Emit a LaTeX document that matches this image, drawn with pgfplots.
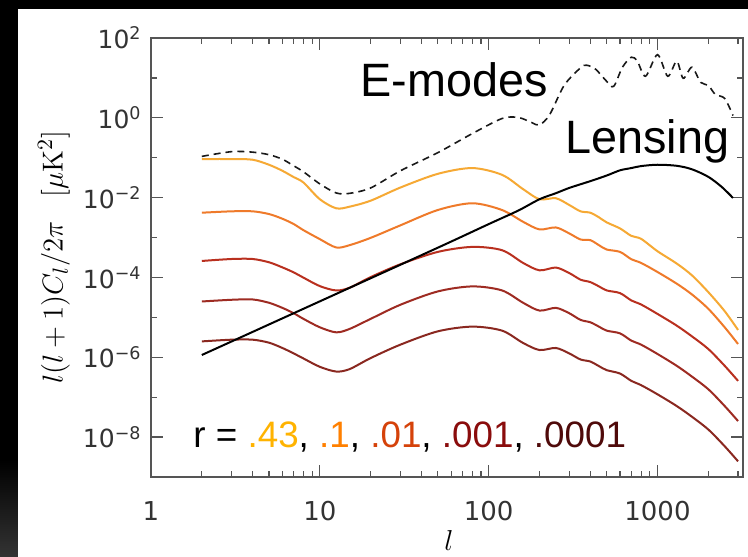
\documentclass[border=0pt]{standalone}
\usepackage[no-math]{fontspec}
\usepackage{pgfplots}
\pgfplotsset{compat=1.18}
\newfontfamily\arial{Liberation Sans}
\newfontfamily\dejavu{DejaVu Sans}
\definecolor{cA}{HTML}{F6A934}
\definecolor{cB}{HTML}{EF7A2A}
\definecolor{cC}{HTML}{B9301F}
\definecolor{cD}{HTML}{9E2B22}
\definecolor{cE}{HTML}{8A2820}
\definecolor{lA}{HTML}{FFB300}
\definecolor{lB}{HTML}{FF8000}
\definecolor{lC}{HTML}{D5420A}
\definecolor{lD}{HTML}{8A0C0C}
\definecolor{lE}{HTML}{4F0A0A}
\definecolor{frame}{HTML}{555555}
\begin{document}
\begin{tikzpicture}
\fill[black] (-75.5pt,-39.5pt) rectangle (298.5pt,238.5pt);
\shade[top color=black,bottom color=black!80!white] (-75.5pt,-39.5pt) rectangle (-66.5pt,8.5pt);
\fill[white] (-66.5pt,-39.5pt) rectangle (298.5pt,234pt);
\begin{axis}[
  at={(0pt,0pt)}, anchor=south west,
  scale only axis, width=296pt, height=219.5pt,
  xmode=log, ymode=log,
  xmin=1, xmax=3210, ymin=1e-9, ymax=1e2,
  xtick={1,10,100,1000}, xticklabels={1,10,100,1000},
  minor xtick={2,3,4,5,6,7,8,9,20,30,40,50,60,70,80,90,200,300,400,500,600,700,800,900,2000,3000},
  ytick={1e-8,1e-6,1e-4,1e-2,1,1e2},
  yticklabels={10\textsuperscript{−8},10\textsuperscript{−6},10\textsuperscript{−4},10\textsuperscript{−2},10\textsuperscript{0},10\textsuperscript{2}},
  minor ytick={1e-7,1e-5,1e-3,1e-1,10},
  major tick length=6pt, minor tick length=3pt,
  every tick/.style={frame, line width=0.6pt},
  axis line style={frame, line width=0.75pt},
  xticklabel style={font=\dejavu\fontsize{13}{15}\selectfont, inner sep=0pt, anchor=north, yshift=-12pt, text=black!80},
  yticklabel style={font=\dejavu\fontsize{12.5}{14}\selectfont, inner sep=0pt, anchor=east, xshift=-4.5pt, text=black!80},
  xlabel={$l$},
  ylabel={$l(l+1)C_l/2\pi\hspace{0.8em}[\mu\mathrm{K}^2]$},
  xlabel style={font=\fontsize{14.5}{16}\selectfont, at={(axis description cs:0.503,-0.1198)}, anchor=north, inner sep=0pt},
  ylabel style={font=\fontsize{15}{17}\selectfont, at={(axis description cs:-0.1639,0.5)}, anchor=center, inner sep=0pt},
]
% E-modes (dashed)
\addplot[black!90, line width=0.8pt, dash pattern=on 3.5pt off 2.5pt, smooth, tension=0.5] coordinates {
(2,1.08e-1) (3,1.42e-1) (4,1.38e-1) (5,1.19e-1) (6,9.16e-2) (7,6.28e-2) (8,4.44e-2)
(10,2.21e-2) (12.5,1.31e-2) (15,1.28e-2) (20,1.75e-2) (30,4.7e-2) (50,1.34e-1)
(80,4.03e-1) (120,9.6e-1) (150,1.02) (180,7.6e-1) (200,6.6e-1) (230,1.21) (280,6.5)
(350,17.9) (380,20.8) (430,16.5) (500,8.2) (550,6.14) (620,18.5) (700,33.0) (760,26.2)
(850,11.0) (1000,38.2) (1150,11.0) (1300,26.2) (1420,9.77) (1600,18.5) (1800,7.74)
(2000,6.5) (2200,3.86) (2500,3.06) (2800,1.14)};
% r = 0.43
\addplot[cA, line width=1pt, smooth] coordinates {
(2,9.27e-2) (3,9.27e-2) (4,8.91e-2) (5,6.67e-2) (6,4.71e-2) (7,3.27e-2) (8,2.39e-2)
(10,9.12e-3) (12.5,5.41e-3) (15,5.93e-3) (20,8.39e-3) (30,1.79e-2) (50,3.95e-2)
(80,5.51e-2) (120,3.73e-2) (160,1.63e-2) (200,9.12e-3) (250,9.66e-3) (300,6.55e-3)
(350,4.54e-3) (400,4.19e-3) (450,3.21e-3) (500,2.40e-3) (600,1.69e-3) (700,1.10e-3)
(800,9.27e-4) (1000,4.54e-4) (1300,2.23e-4) (1600,1.13e-4) (2000,4.29e-5)
(2500,1.43e-5) (3000,4.84e-6)};
% r = 0.1
\addplot[cB, line width=1pt, smooth] coordinates {
(2,4.19e-3) (3,4.54e-3) (4,4.54e-3) (5,3.88e-3) (6,2.96e-3) (7,2.18e-3) (8,1.53e-3)
(10,9.12e-4) (12.5,5.64e-4) (15,6.44e-4) (20,9.82e-4) (30,2.02e-3) (50,4.90e-3)
(80,7.23e-3) (120,4.90e-3) (160,2.48e-3) (200,1.60e-3) (250,1.79e-3) (300,1.27e-3)
(350,8.95e-4) (400,8.61e-4) (450,6.44e-4) (500,5.01e-4) (600,4.37e-4) (700,2.86e-4)
(800,2.31e-4) (1000,1.37e-4) (1300,6.98e-5) (1600,3.75e-5) (2000,1.64e-5)
(2500,5.64e-6) (3000,2.15e-6)};
% r = 0.01
\addplot[cC, line width=1pt, smooth] coordinates {
(2,2.59e-4) (3,2.90e-4) (4,2.90e-4) (5,2.40e-4) (6,1.79e-4) (7,1.34e-4) (8,9.89e-5)
(10,6.07e-5) (12.5,4.73e-5) (15,5.53e-5) (20,1.02e-4) (30,2.14e-4) (50,4.37e-4)
(80,5.83e-4) (120,4.82e-4) (160,2.31e-4) (200,1.51e-4) (250,1.77e-4) (300,1.29e-4)
(350,8.81e-5) (400,7.66e-5) (450,5.97e-5) (500,4.73e-5) (600,4.05e-5) (700,2.65e-5)
(800,2.10e-5) (1000,1.22e-5) (1300,6.21e-6) (1600,3.34e-6) (2000,1.61e-6)
(2500,6.11e-7) (3000,2.56e-7)};
% r = 0.001
\addplot[cD, line width=1pt, smooth] coordinates {
(2,2.50e-5) (3,2.76e-5) (4,2.81e-5) (5,2.32e-5) (6,1.73e-5) (7,1.27e-5) (8,9.17e-6)
(10,5.64e-6) (12.5,4.22e-6) (15,5.13e-6) (20,9.17e-6) (30,2.07e-5) (50,4.47e-5)
(80,5.97e-5) (120,4.73e-5) (160,2.32e-5) (200,1.48e-5) (250,1.73e-5) (300,1.27e-5)
(350,8.65e-6) (400,7.53e-6) (450,5.86e-6) (500,4.65e-6) (600,3.97e-6) (700,2.61e-6)
(800,2.07e-6) (1000,1.21e-6) (1300,6.11e-7) (1600,3.28e-7) (2000,1.58e-7)
(2500,6.00e-8) (3000,2.52e-8)};
% r = 0.0001
\addplot[cE, line width=1pt, smooth] coordinates {
(2,2.50e-6) (3,2.76e-6) (4,2.76e-6) (5,2.32e-6) (6,1.71e-6) (7,1.25e-6) (8,9.33e-7)
(10,5.77e-7) (12.5,4.39e-7) (15,5.05e-7) (20,9.55e-7) (30,2.07e-6) (50,4.47e-6)
(80,5.86e-6) (120,4.65e-6) (160,2.28e-6) (200,1.52e-6) (250,1.71e-6) (300,1.25e-6)
(350,8.81e-7) (400,7.83e-7) (450,6.00e-7) (500,4.76e-7) (600,3.91e-7) (700,2.56e-7)
(800,2.00e-7) (1000,1.18e-7) (1300,6.00e-8) (1600,3.23e-8) (2000,1.55e-8)
(2500,5.90e-9) (3000,2.47e-9)};
% Lensing
\addplot[black, line width=1pt, smooth] coordinates {
(2,1.14e-6) (10,2.52e-5) (50,5.57e-4) (100,2.17e-3) (150,4.76e-3) (200,9.12e-3)
(250,1.29e-2) (300,1.75e-2) (400,2.59e-2) (500,3.58e-2) (600,4.84e-2) (700,5.51e-2)
(800,6.18e-2) (1000,6.67e-2) (1300,6.28e-2) (1600,5.13e-2) (2000,3.32e-2)
(2400,1.86e-2) (2800,9.82e-3)};
\node[anchor=base west, inner sep=0pt, font=\arial\fontsize{23.4}{26}\selectfont] at (rel axis cs:0.353,0.8656) {E-modes};
\node[anchor=base west, inner sep=0pt, font=\arial\fontsize{23.4}{26}\selectfont] at (rel axis cs:0.699,0.7376) {Lensing};
\node[anchor=base west, inner sep=0pt, font=\arial\fontsize{18.4}{20}\selectfont] at (rel axis cs:0.0709,0.0661) {r = \textcolor{lA}{.43}, \textcolor{lB}{.1}, \textcolor{lC}{.01}, \textcolor{lD}{.001}, \textcolor{lE}{.0001}};
\end{axis}
\pgfresetboundingbox
\useasboundingbox (-75.5pt,-39.5pt) rectangle (298.5pt,238.5pt);
\end{tikzpicture}
\end{document}
